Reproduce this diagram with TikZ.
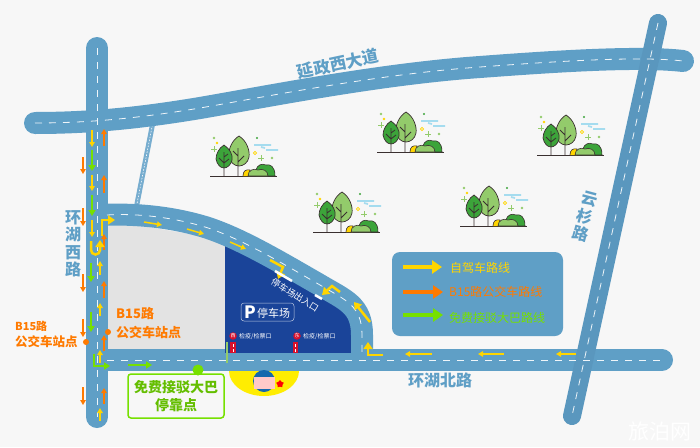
\documentclass[tikz,border=0pt]{standalone}
\usepackage{fontspec}
\setmainfont{Noto Sans CJK SC}
\usetikzlibrary{arrows.meta}
\usetikzlibrary{shapes.geometric}
\definecolor{roadblue}{HTML}{5F9FC6}
\definecolor{roaddark}{HTML}{5A97BE}
\definecolor{backgray}{HTML}{F7F7F7}
\definecolor{lotgray}{HTML}{E3E3E3}
\definecolor{lotblue}{HTML}{1A4499}
\definecolor{routeyellow}{HTML}{FFD500}
\definecolor{routeorange}{HTML}{FF7A00}
\definecolor{routegreen}{HTML}{76E000}
\definecolor{gatered}{HTML}{D8102C}
\definecolor{leafdark}{HTML}{3CA43A}
\definecolor{leaflight}{HTML}{93CB6B}
\definecolor{treeline}{HTML}{3A3030}
\definecolor{cloudblue}{HTML}{A5DCEF}
\tikzset{
	x=1pt, y=-1pt,
	road/.style={draw=roadblue, line width=22pt, line cap=round, line join=round},
	roaddash/.style={draw=white!90!roadblue, line width=0.8pt, dash pattern=on 7pt off 7pt},
	yellowline/.style={draw=routeyellow, line width=1.5pt, -{Triangle[length=5pt,width=5.5pt]}},
	orangeline/.style={draw=routeorange, line width=1.5pt, -{Triangle[length=5pt,width=5.5pt]}},
	greenline/.style={draw=routegreen, line width=2pt, -{Triangle[length=6pt,width=7pt]}},
	yellowbend/.style={draw=routeyellow, line width=2.5pt, line join=miter, -{Triangle[length=7pt,width=9pt]}},
	legendline/.style={line width=3.5pt, -{Triangle[length=10pt,width=13pt]}},
	roadname/.style={text=roadblue, font=\bfseries\fontsize{16}{18}\selectfont, inner sep=0pt},
	legendtext/.style={font=\fontsize{12}{14}\selectfont, anchor=west, inner sep=0pt},
	stoptext/.style={text=routeorange, font=\bfseries\fontsize{13}{16}\selectfont, anchor=west, inner sep=0pt},
	gatetext/.style={text=white, font=\fontsize{6}{7}\selectfont, anchor=west, inner sep=0pt},
	gatedot/.style={circle, fill=gatered, text=white, inner sep=0pt, minimum size=7.5pt, font=\fontsize{5}{5}\selectfont},
	pics/treegroup/.style={code={
		\draw[treeline, line width=0.8pt] (0,0) -- (67,0);
		\draw[treeline, line width=0.7pt, fill=leaflight] (29,-40) .. controls (37,-35) and (40,-25) .. (39,-19) .. controls (38,-13) and (33,-10) .. (29,-10) .. controls (24,-10) and (20,-14) .. (19,-20) .. controls (18,-26) and (22,-36) .. (29,-40);
		\draw[treeline, line width=0.8pt] (28,0) -- (28,-28) (28,-14) -- (34,-20) (28,-20) -- (23,-25);
		\draw[treeline, line width=0.7pt, fill=leafdark] (14,-31) .. controls (20,-27) and (23,-21) .. (22,-16) .. controls (21,-11) and (17,-8) .. (14,-8) .. controls (10,-8) and (7,-12) .. (6,-17) .. controls (6,-22) and (9,-28) .. (14,-31);
		\draw[treeline, line width=0.8pt] (14,0) -- (14,-24) (14,-13) -- (19,-17) (14,-13) -- (9,-18) (14,-19) -- (18,-22);
		\draw[treeline, line width=0.6pt, fill=routeyellow] (33,0) .. controls (33,-5) and (36,-7) .. (40,-6) -- (40,0);
		\draw[treeline, line width=0.6pt, fill=leafdark] (46,-6) .. controls (47,-11) and (52,-13) .. (56,-11) .. controls (60,-12) and (65,-10) .. (65,0) -- (46,0) -- cycle;
		\draw[treeline, line width=0.6pt, fill=leaflight] (38,0) .. controls (38,-6) and (44,-8) .. (48,-6) .. controls (53,-8) and (58,-5) .. (58,0) -- cycle;
		\draw[cloudblue, line width=1.8pt] (44,-31) -- (61,-31) (56,-26) -- (68,-26) (51,-29) -- (55,-28);
		\draw[routeyellow, line width=0.8pt] (45,-23) circle (1.6);
		\fill[routeyellow] (7,-33) circle (1.4);
		\fill[leaflight] (4,-38) circle (1.4) (62,-18) circle (1.4);
		\fill[leafdark] (47,-38) circle (1.1);
		\draw[leaflight, line width=0.8pt] (4,-30) -- (4,-24) (1,-27) -- (7,-27) (51,-21) -- (51,-15) (48,-18) -- (54,-18);
	}}
}
\begin{document}
\begin{tikzpicture}
	\useasboundingbox[fill=backgray] (0,0) rectangle (700,447);
	% blocks inside the roads
	\fill[lotgray] (107,220) -- (225,240) -- (225,350) -- (107,350) -- cycle;
	\fill[lotblue] (225,240) .. controls (247,247) and (262,257) .. (277,265) .. controls (292,274) and (305,283) .. (317,290) .. controls (340,303) and (357,313) .. (357,335) -- (357,353) -- (225,353) -- cycle;
	% roads
	\draw[road, draw=roadblue!85!white, line width=5pt, line cap=butt] (153,122) -- (135,214);
	\draw[white, line width=0.6pt, dash pattern=on 1.5pt off 1.5pt] (153,122) -- (135,214);
	\draw[road] (35,123) .. controls (90,123) and (140,118) .. (200,108) .. controls (270,96) and (380,74) .. (480,67) .. controls (560,61) and (640,56) .. (683,61);
	\draw[road] (97,48) -- (97,417);
	\draw[road] (97,360) -- (662,360);
	\draw[road] (97,215) .. controls (140,213) and (175,218) .. (205,227) .. controls (240,238) and (280,262) .. (320,285) .. controls (345,300) and (362,305) .. (362,335) -- (362,360);
	\draw[road, draw=roaddark, line width=18pt] (658,23) -- (572,416);
	\draw[roaddash] (35,123) .. controls (90,123) and (140,118) .. (200,108) .. controls (270,96) and (380,74) .. (480,67) .. controls (560,61) and (640,56) .. (683,61);
	\draw[roaddash] (658,23) -- (572,416);
	\draw[roaddash] (97,48) -- (97,417);
	\draw[roaddash] (107,360) -- (662,360);
	\draw[roaddash] (107,215) .. controls (140,213) and (175,218) .. (205,227) .. controls (240,238) and (280,262) .. (320,285) .. controls (345,300) and (362,305) .. (362,335) -- (362,355);
	\fill[lotblue] (225,345) rectangle (351,353);
	% trees
	\pic at (210,176) {treegroup};
	\pic at (377,152) {treegroup};
	\pic at (313,232) {treegroup};
	\pic at (537,155) {treegroup};
	\pic at (460,226) {treegroup};
	% entrance below the north road
	\fill[yellow!95!orange] (229,371) arc[start angle=180, end angle=0, x radius=35, y radius=25] -- cycle;
	\fill[lotblue!80!cyan] (264,381) circle (11);
	\fill[pink!85!white] (254,377) rectangle (275,389);
	\node[star, star points=5, fill=red, inner sep=0pt, minimum size=8pt] (entrystar) at (280,384) {};
	% west road routes
	\draw[orangeline] (83,157) -- (83,174);
	\draw[orangeline] (83,208) -- (83,226);
	\draw[orangeline] (83,274) -- (83,292);
	\draw[orangeline] (83,319) -- (83,337);
	\draw[orangeline] (83,387) -- (83,405);
	\draw[yellowline] (92,130) -- (92,147);
	\draw[yellowline] (92,175) -- (92,191);
	\draw[yellowline] (92,220) -- (92,237);
	\draw[greenline] (92,150) -- (92,171);
	\draw[greenline] (92,195) -- (92,216);
	\draw[greenline] (91,263) -- (91,282);
	\draw[greenline] (91,312) -- (91,332);
	\draw[orangeline] (104,146) -- (104,129);
	\draw[orangeline] (104,193) -- (104,175);
	\draw[orangeline] (104,250) -- (104,234);
	\draw[orangeline] (104,298) -- (104,281);
	\draw[orangeline] (104,351) -- (104,335);
	\draw[orangeline] (104,404) -- (104,388);
	\draw[yellowline] (100,275) -- (100,261);
	\draw[yellowline] (100,316) -- (100,303);
	\draw[yellowline] (100,363) -- (100,350);
	\draw[yellowline] (100,421) -- (100,408);
	\draw[yellowbend] (91,241) -- (91,250) arc[start angle=180, end angle=0, radius=4.5] -- (100,240);
	\draw[yellowbend] (102,236) -- (102,220) -- (115,220);
	\draw[greenline, line width=1.5pt] (94,354) -- (94,366) -- (110,366);
	\draw[greenline] (128,365) -- (152,365);
	% inner road routes
	\draw[yellowline] (144,222) -- (162,225);
	\draw[yellowline] (187,229) -- (204,234);
	\draw[yellowline] (230,242) -- (246,249);
	\draw[yellowbend] (270,260) -- (283,267) -- (278,279);
	\draw[yellowbend] (340,292) -- (332,286) -- (322,295);
	\draw[yellowbend] (370,322) -- (354,302);
	\draw[yellowbend] (383,355) -- (368,355) -- (368,342);
	% north road routes
	\draw[yellowline] (432,354) -- (405,354);
	\draw[yellowline] (504,354) -- (478,354);
	\draw[yellowline] (576,354) -- (556,354);
	% gates
	\draw[white, line width=2.5pt] (275,271) -- (292,281);
	\draw[white, line width=2.5pt] (315,295) -- (322,299);
	\fill[gatered] (230,342) rectangle (236,353);
	\fill[gatered] (293,342) rectangle (298,353);
	\draw[white, line width=0.8pt] (233,344) -- (233,347) (233,349) -- (233,352) (295.5,344) -- (295.5,347) (295.5,349) -- (295.5,352);
	\fill[leaflight] (226,342) rectangle (228,363);
	\node[gatedot] (gatewest) at (233,336) {西};
	\node[gatedot] (gateeast) at (297,336) {东};
	\node[gatetext] (gatewesttext) at (239,336) {检疫/检票口};
	\node[gatetext] (gateeasttext) at (303,336) {检疫/检票口};
	% parking labels
	\node[text=white, font=\fontsize{9}{10}\selectfont, rotate=-32, inner sep=0pt] (lotexit) at (295,295) {停车场出入口};
	\draw[white!70!lotblue, rounded corners=3pt, line width=0.5pt] (241,303) rectangle (294,321);
	\node[text=white, font=\bfseries\fontsize{17}{18}\selectfont, inner sep=0pt] (lotp) at (250,312) {P};
	\node[text=white, font=\fontsize{11}{12}\selectfont, inner sep=0pt, anchor=west] (lotname) at (257,313) {停车场};
	% road names
	\node[roadname, rotate=12, font=\bfseries\fontsize{16.5}{18}\selectfont] (roadtop) at (338,64) {延政西大道};
	\node[roadname, align=center, font=\bfseries\fontsize{16}{17.5}\selectfont] (roadwest) at (73,244) {环\\湖\\西\\路};
	\node[roadname, align=center, font=\bfseries\fontsize{16}{18}\selectfont, rotate=-15] (roadeast) at (585,217) {云\\杉\\路};
	\node[roadname] (roadnorth) at (440,380) {环湖北路};
	% bus stops
	\fill[routeorange] (86,342) circle (3);
	\fill[routeorange] (108,332) circle (3);
	\node[stoptext] (stopright) at (116,314) {B15路};
	\node[stoptext] (stoprightname) at (116,332) {公交车站点};
	\node[stoptext, font=\bfseries\fontsize{11}{13}\selectfont] (stopleft) at (15,326) {B15路};
	\node[stoptext, font=\bfseries\fontsize{12.5}{13}\selectfont] (stopleftname) at (15,342) {公交车站点};
	% shuttle stop
	\draw[routegreen, fill=backgray, line width=1.5pt, rounded corners=3pt] (128,374) rectangle (224,418);
	\fill[routegreen] (198,370) circle (5.5);
	\node[text=routegreen!85!black, align=center, font=\bfseries\fontsize{14}{18}\selectfont, inner sep=0pt] (shuttletext) at (176,396) {免费接驳大巴\\停靠点};
	% legend
	\fill[roadblue, rounded corners=8pt] (392,252) rectangle (563,336);
	\draw[legendline, routeyellow] (403,267) -- (442,267);
	\draw[legendline, routeorange] (403,292) -- (443,292);
	\draw[legendline, routegreen] (403,315) -- (443,315);
	\node[legendtext, text=routeyellow] (legendcar) at (450,268) {自驾车路线};
	\node[legendtext, text=routeorange] (legendbus) at (449,292) {B15路公交车路线};
	\node[legendtext, text=routegreen] (legendshuttle) at (449,318) {免费接驳大巴路线};
	% watermark
	\node[text=white, font=\fontsize{21}{22}\selectfont, inner sep=0pt] (watermark) at (660,431) {旅泊网};
\end{tikzpicture}
\end{document}
